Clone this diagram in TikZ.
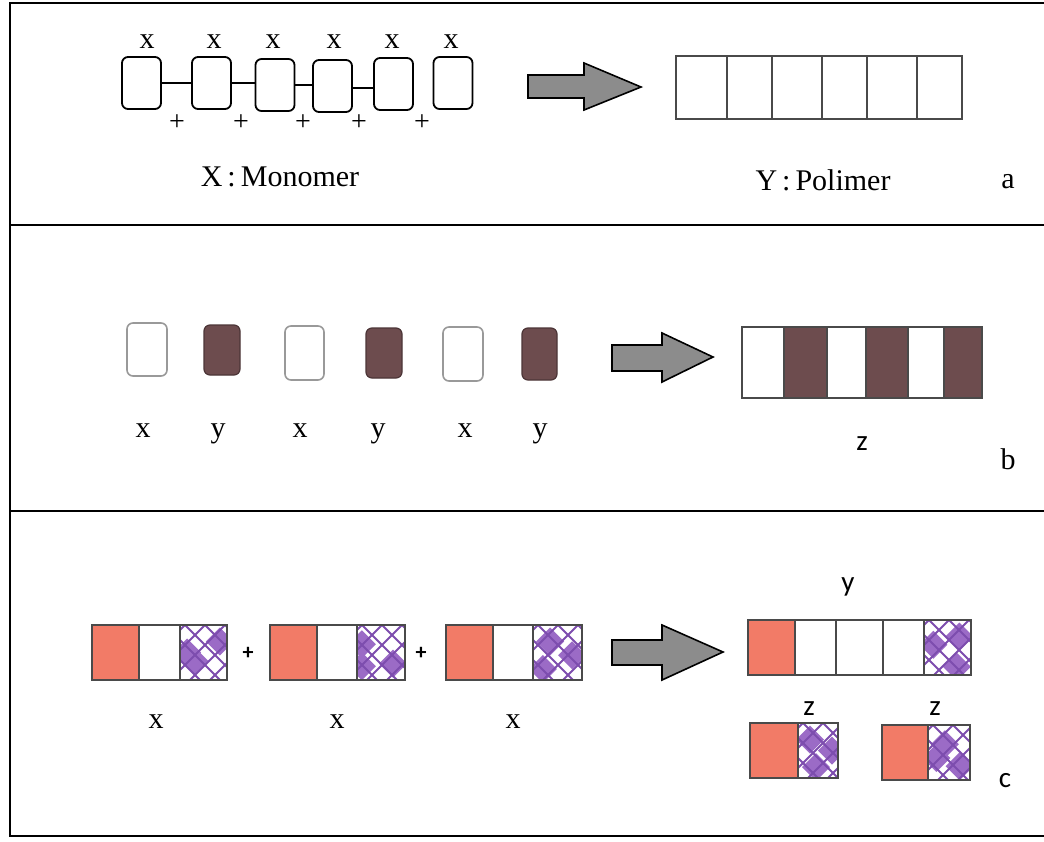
\documentclass[tikz,border=0pt]{standalone}
\usepackage{fontspec}
\setmainfont{Liberation Serif}
\newfontfamily\calib{Carlito}
\usetikzlibrary{calc}

\definecolor{arrowgray}{HTML}{8C8C8C}
\definecolor{maroon}{HTML}{6D4C4E}
\definecolor{salmon}{HTML}{F27B67}
\definecolor{lilac}{HTML}{9B6BC6}
\definecolor{lilacdark}{HTML}{7D4DAE}
\definecolor{framegray}{HTML}{4A4A4A}

\tikzset{
  frameline/.style={line width=2pt, black},
  mono/.style={draw=black, line width=1.8pt, rounded corners=6pt, minimum width=39pt, minimum height=52pt, inner sep=0pt},
  bond/.style={line width=2pt, black},
  lbl/.style={inner sep=0pt, anchor=base, font=\fontsize{30}{32}\selectfont},
  plbl/.style={inner sep=0pt, font=\fontsize{28}{30}\selectfont},
  clbl/.style={inner sep=0pt, anchor=base, font=\calib\fontsize{29}{31}\selectfont},
  cplus/.style={inner sep=0pt, font=\calib\bfseries\fontsize{22}{24}\selectfont},
  bigarrow/.style={fill=arrowgray, draw=black, line width=1.6pt, line join=miter},
  cell/.style={draw=framegray, line width=1.5pt},
  whitebead/.style={draw=gray!80, line width=1.6pt, rounded corners=6pt, fill=white, inner sep=0pt},
  darkbead/.style={draw=maroon!70!black, line width=1.2pt, rounded corners=6pt, fill=maroon, inner sep=0pt},
  latline/.style={draw=lilacdark, line width=2pt},
  latfill/.style={fill=lilac},
}

% lattice-filled cell: corners (#1,#2)-(#3,#4), blob positions #5 as fractions u/v
\newcommand{\latticecell}[5]{%
  \begin{scope}
    \clip (#1,#2) rectangle (#3,#4);
    \fill[white] (#1,#2) rectangle (#3,#4);
    \foreach \u/\v in {#5} {
      \fill[latfill] ({#1+\u*(#3-#1)},{#2+\v*(#4-#2)})
        +(-14,0) -- +(0,-14) -- +(14,0) -- +(0,14) -- cycle;
    }
    \foreach \k in {-5,...,8} {
      \draw[latline] ({#1+(\k)*20+5},#2) -- +(90,90);
      \draw[latline] ({#1+(\k)*20+5},#2) -- +(-90,90);
    }
  \end{scope}
  \draw[cell] (#1,#2) rectangle (#3,#4);
}

\begin{document}
\begin{tikzpicture}[x=1pt,y=-1pt]
\useasboundingbox (0,0) rectangle (1044,841);
\fill[white] (0,0) rectangle (1044,841);

% outer frame and panel dividers
\draw[frameline] (1044,3) -- (10,3) -- (10,836) -- (1044,836);
\draw[frameline] (10,225) -- (1044,225);
\draw[frameline] (10,511) -- (1044,511);

% ---------- panel a ----------
\node[mono] (m1) at (141.5,83) {};
\node[mono] (m2) at (211.5,83) {};
\node[mono] (m3) at (275,85) {};
\node[mono] (m4) at (332.5,86) {};
\node[mono] (m5) at (393.5,84) {};
\node[mono] (m6) at (453,83) {};
\draw[bond] (m1.east) -- (m1.east -| m2.west);
\draw[bond] (m2.east) -- (m2.east -| m3.west);
\draw[bond] (m3.east) -- (m3.east -| m4.west);
\draw[bond] ([yshift=-2pt]m4.east) -- ([yshift=-2pt]m4.east -| m5.west);

\foreach \n/\xx in {1/147,2/214,3/273,4/334,5/392,6/451}
  \node[lbl] (ax\n) at (\xx,48) {x};
\foreach \n/\xx in {1/177,2/241,3/303,4/359,5/422}
  \node[plbl] (ap\n) at (\xx,123) {+};

\node[lbl] (monolabel) at (280,186) {X\,:\,Monomer};

\draw[bigarrow] (528,75) -- (584,75) -- (584,63) -- (641,87) -- (584,110) -- (584,98) -- (528,98) -- cycle;

\draw[cell] (676,56) rectangle (962,119);
\foreach \xx in {727,772,822,867,917}
  \draw[cell] (\xx,56) -- (\xx,119);

\node[lbl] (polylabel) at (823,190) {Y\,:\,Polimer};
\node[lbl] (tagA) at (1008,188) {a};

% ---------- panel b ----------
\node[whitebead, minimum width=40pt, minimum height=53pt] (b1) at (147,349.5) {};
\node[darkbead,  minimum width=36pt, minimum height=50pt] (b2) at (222,350) {};
\node[whitebead, minimum width=39pt, minimum height=54pt] (b3) at (304.5,353) {};
\node[darkbead,  minimum width=36pt, minimum height=50pt] (b4) at (384,353) {};
\node[whitebead, minimum width=40pt, minimum height=54pt] (b5) at (463,354) {};
\node[darkbead,  minimum width=35pt, minimum height=52pt] (b6) at (539.5,354) {};

\foreach \n/\xx/\t in {1/143/x,2/218/y,3/300/x,4/378/y,5/465/x,6/540/y}
  \node[lbl] (bl\n) at (\xx,437) {\t};

\draw[bigarrow] (612,345) -- (662,345) -- (662,333) -- (713,357) -- (662,382) -- (662,371) -- (612,371) -- cycle;

\fill[maroon] (784,327) rectangle (827,398);
\fill[maroon] (866,327) rectangle (908,398);
\fill[maroon] (944,327) rectangle (982,398);
\draw[cell] (742,327) rectangle (982,398);
\foreach \xx in {784,827,866,908,944}
  \draw[cell] (\xx,327) -- (\xx,398);

\node[clbl] (zb) at (862,450) {z};
\node[lbl] (tagB) at (1008,469) {b};

% ---------- panel c ----------
% monomer 1
\fill[salmon] (92,625) rectangle (139,680);
\draw[cell] (92,625) rectangle (180,680);
\draw[cell] (139,625) -- (139,680);
\latticecell{180}{625}{227}{680}{0.15/0.5,0.85/0.3,0.3/0.65}
% monomer 2
\fill[salmon] (270,625) rectangle (317,680);
\draw[cell] (270,625) rectangle (357,680);
\draw[cell] (317,625) -- (317,680);
\latticecell{357}{625}{405}{680}{0.1/0.35,0.75/0.7,0.1/0.75}
% monomer 3
\fill[salmon] (446,625) rectangle (493,680);
\draw[cell] (446,625) rectangle (533,680);
\draw[cell] (493,625) -- (493,680);
\latticecell{533}{625}{582}{680}{0.35/0.3,0.8/0.55,0.2/0.8}

\node[cplus] (cp1) at (248,653) {+};
\node[cplus] (cp2) at (421,653) {+};

\foreach \n/\xx in {1/156,2/337,3/513}
  \node[lbl] (cx\n) at (\xx,728) {x};

\draw[bigarrow] (612,640) -- (662,640) -- (662,625) -- (723,652) -- (662,680) -- (662,665) -- (612,665) -- cycle;

% product chain
\fill[salmon] (748,620) rectangle (795,675);
\draw[cell] (748,620) rectangle (924,675);
\foreach \xx in {795,836,883}
  \draw[cell] (\xx,620) -- (\xx,675);
\latticecell{924}{620}{971}{675}{0.2/0.45,0.75/0.3,0.7/0.85}
\node[clbl] (cy) at (848,591) {y};

% by-products
\fill[salmon] (750,723) rectangle (798,778);
\draw[cell] (750,723) rectangle (798,778);
\latticecell{798}{723}{838}{778}{0.3/0.3,0.85/0.5,0.45/0.8}
\fill[salmon] (882,725) rectangle (928,780);
\draw[cell] (882,725) rectangle (928,780);
\latticecell{928}{725}{970}{780}{0.4/0.35,0.75/0.75,0.2/0.6}

\node[clbl] (cz1) at (809,715) {z};
\node[clbl] (cz2) at (935,715) {z};
\node[clbl] (tagC) at (1005,787) {c};
\end{tikzpicture}
\end{document}
